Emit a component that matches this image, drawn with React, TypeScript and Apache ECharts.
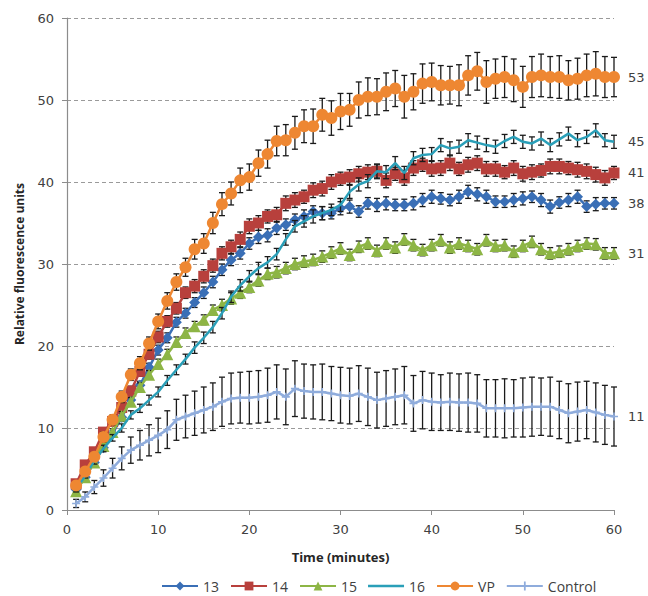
import React, { useEffect, useRef } from "react";
import * as echarts from "echarts";

const minutes = [1,2,3,4,5,6,7,8,9,10,11,12,13,14,15,16,17,18,19,20,21,22,23,24,25,26,27,28,29,30,31,32,33,34,35,36,37,38,39,40,41,42,43,44,45,46,47,48,49,50,51,52,53,54,55,56,57,58,59,60];

const s13 = [2.5,4.0,5.8,7.6,9.3,11.3,13.4,15.2,17.4,19.5,21.0,22.9,24.0,25.3,26.5,27.8,29.3,30.5,31.3,32.5,33.3,33.5,34.4,34.8,35.4,35.8,36.4,36.2,36.2,36.8,37.0,36.4,37.4,37.2,37.4,37.2,37.2,37.4,37.8,38.2,38.0,37.8,38.2,38.8,38.5,38.2,37.6,37.6,37.8,38.0,38.2,37.8,37.0,37.5,37.8,38.2,37.0,37.3,37.4,37.4];
const s14 = [3.2,5.5,7.1,9.5,10.8,12.5,14.5,16.9,19.0,21.1,23.0,24.6,26.5,27.3,28.5,29.8,31.3,32.1,33.0,34.6,35.0,35.8,36.0,37.4,37.8,38.2,39.0,39.2,40.0,40.4,40.6,41.0,41.2,41.3,40.2,41.0,40.5,41.7,42.1,41.6,41.7,42.3,41.6,42.1,42.3,41.6,41.6,41.2,41.7,41.0,41.2,41.4,41.9,41.9,41.7,41.5,41.3,40.9,40.5,41.1];
const s15 = [2.3,4.0,5.8,7.8,9.5,11.5,13.2,15.0,16.5,17.8,19.0,20.5,21.6,22.4,23.2,24.4,25.0,25.8,26.5,27.2,28.0,28.8,29.0,29.5,30.0,30.3,30.5,30.9,31.4,31.9,31.1,32.1,32.5,31.6,32.5,32.0,33.0,32.3,31.7,32.3,32.9,32.0,32.5,32.2,31.8,32.9,32.2,32.3,31.5,32.2,32.7,31.8,31.3,31.5,31.8,32.2,32.5,32.4,31.3,31.3];
const s16 = [2.5,4.2,6.0,7.5,8.8,10.0,11.6,12.4,13.4,14.4,15.8,17.1,18.4,19.8,21.0,22.3,24.0,26.0,27.4,28.5,29.5,30.2,31.2,33.0,34.6,35.2,35.8,36.2,36.6,37.2,38.8,39.7,40.1,41.3,41.2,42.3,41.1,42.9,43.3,43.4,44.5,44.1,44.3,45.1,44.8,44.5,44.3,45.0,45.5,44.9,44.7,45.3,44.5,45.2,45.9,45.1,45.5,46.3,45.1,44.9];
const sVP = [3.0,4.7,6.5,8.9,11.0,13.8,16.5,17.9,20.3,23.0,25.5,27.8,29.6,31.8,32.5,35.0,37.3,38.6,40.2,40.6,42.3,43.4,45.0,45.1,46.0,46.8,46.8,48.2,47.8,48.6,48.8,50.0,50.4,50.4,51.0,51.4,50.4,51.0,52.0,52.2,51.8,51.8,51.8,53.0,53.5,52.2,52.6,52.8,52.4,51.6,52.8,53.0,52.8,52.8,52.4,52.6,53.0,53.2,52.8,52.8];
const sCtrl = [0.8,1.6,2.8,3.9,5.1,6.3,7.3,7.9,8.5,9.1,9.8,11.0,11.4,11.8,12.2,12.6,13.2,13.6,13.7,13.7,13.8,14.0,14.4,13.8,14.8,14.5,14.4,14.4,14.2,14.0,13.9,14.2,13.8,13.4,13.6,13.8,14.0,13.0,13.4,13.2,13.1,13.2,13.1,13.1,13.0,12.4,12.4,12.4,12.4,12.5,12.6,12.6,12.6,12.2,11.8,12.0,12.2,11.9,11.6,11.4];

const e13 = [0.3,0.3,0.4,0.4,0.4,0.5,0.5,0.5,0.5,0.6,0.6,0.6,0.6,0.6,0.7,0.7,0.7,0.7,0.7,0.7,0.8,0.8,0.8,0.7,0.7,0.8,0.7,0.8,0.7,0.8,0.8,0.7,0.7,0.8,0.8,0.7,0.7,0.8,0.8,0.8,0.7,0.7,0.8,0.8,0.8,0.8,0.7,0.7,0.8,0.8,0.7,0.8,0.8,0.7,0.8,0.8,0.7,0.8,0.7,0.7];
const e14 = [0.3,0.4,0.4,0.5,0.5,0.5,0.6,0.6,0.6,0.7,0.7,0.7,0.7,0.8,0.8,0.8,0.8,0.8,0.9,0.9,0.9,0.8,0.9,0.9,0.9,0.8,0.9,0.9,0.9,0.8,0.9,0.9,0.9,0.9,0.9,0.8,0.9,0.9,0.8,0.9,0.9,0.9,0.8,0.9,0.9,0.9,0.9,0.8,0.9,0.9,0.9,0.8,0.9,0.9,0.8,0.9,0.9,0.9,0.9,0.8];
const e15 = [0.3,0.3,0.4,0.4,0.4,0.5,0.5,0.5,0.5,0.6,0.6,0.6,0.6,0.6,0.6,0.6,0.7,0.7,0.7,0.7,0.7,0.7,0.7,0.7,0.7,0.7,0.7,0.7,0.7,0.7,0.7,0.7,0.7,0.7,0.7,0.7,0.7,0.7,0.7,0.7,0.7,0.7,0.7,0.7,0.7,0.7,0.7,0.7,0.7,0.7,0.7,0.7,0.7,0.7,0.7,0.7,0.7,0.7,0.7,0.7];
const e16 = [0.3,0.3,0.4,0.4,0.4,0.5,0.5,0.5,0.6,0.6,0.6,0.6,0.6,0.7,0.7,0.7,0.7,0.7,0.7,0.7,0.7,0.7,0.7,0.7,0.7,0.7,0.8,0.8,0.7,0.8,0.8,0.8,0.8,0.8,0.8,0.8,0.8,0.8,0.8,0.8,0.8,0.8,0.8,0.8,0.8,0.8,0.8,0.8,0.8,0.8,0.8,0.8,0.8,0.8,0.8,0.8,0.8,0.8,0.8,0.8];
const eVP = [0.4,0.5,0.5,0.6,0.6,0.7,0.7,0.8,0.8,0.9,1.0,1.0,1.1,1.2,1.2,1.3,1.4,1.4,1.5,1.6,1.6,1.7,1.8,1.9,2.0,2.0,2.1,2.0,2.1,2.2,2.0,2.2,2.3,2.2,2.3,2.2,2.6,2.2,2.4,2.3,2.4,2.3,2.5,2.4,2.3,2.6,2.4,2.5,2.6,2.5,2.5,2.6,2.5,2.6,2.4,2.5,2.6,2.7,2.5,2.4];
const eCtrl = [0.5,0.6,0.8,1.0,1.2,1.4,1.6,1.8,1.9,2.1,2.3,2.5,2.6,2.7,2.8,2.9,3.0,3.1,3.1,3.2,3.2,3.3,3.3,3.4,3.4,3.3,3.3,3.4,3.3,3.4,3.4,3.4,3.5,3.4,3.4,3.4,3.5,3.4,3.5,3.5,3.4,3.5,3.5,3.6,3.5,3.5,3.5,3.6,3.5,3.6,3.6,3.5,3.6,3.5,3.6,3.6,3.5,3.6,3.6,3.6];

const seriesNames = ["13", "14", "15", "16", "VP", "Control"];
const endLabels = ["38", "41", "31", "45", "53", "11"];
const yTicks = [0, 10, 20, 30, 40, 50, 60];
const xTicks = [0, 10, 20, 30, 40, 50, 60];

const COLORS = ["#3A6FB6", "#B8403C", "#8DB545", "#2A9FB8", "#EE8732", "#8FACDC"];
const FONT = "'DejaVu Sans', Verdana, sans-serif";
const UI_FONT = "'Open Sans', 'Noto Sans', sans-serif";

const plusPath = "path://M4,0H6V4H10V6H6V10H4V6H0V4H4Z";
const lineIcon = "path://M0,0H36V2.6H0Z";

function lineSeries(idx: number, vals: number[], symbol: string, symbolSize: number) {
  return {
    type: "line",
    name: seriesNames[idx],
    data: minutes.map((t, i) => [t, vals[i]]),
    symbol,
    symbolSize,
    showSymbol: symbol !== "none",
    color: COLORS[idx],
    lineStyle: { color: COLORS[idx], width: 2.5 },
    itemStyle: { color: COLORS[idx] },
    endLabel: {
      show: true,
      formatter: () => endLabels[idx],
      distance: 14,
      color: "#404040",
      fontSize: 13,
      fontFamily: FONT,
    },
    z: 2 + idx * 2 + 1,
    silent: true,
  };
}

function errSeries(idx: number, vals: number[], errs: number[]) {
  return {
    type: "custom",
    name: seriesNames[idx] + " error",
    data: minutes.map((t, i) => [t, vals[i] - errs[i], vals[i] + errs[i]]),
    encode: { x: 0, y: [1, 2] },
    silent: true,
    z: 2 + idx * 2,
    renderItem: (_params: any, api: any) => {
      const x = api.value(0);
      const lo = api.coord([x, api.value(1)]);
      const hi = api.coord([x, api.value(2)]);
      const hw = 3;
      const st = { stroke: "#1a1a1a", lineWidth: 1.3 };
      return {
        type: "group",
        children: [
          { type: "line", shape: { x1: lo[0], y1: lo[1], x2: hi[0], y2: hi[1] }, style: st },
          { type: "line", shape: { x1: hi[0] - hw, y1: hi[1], x2: hi[0] + hw, y2: hi[1] }, style: st },
          { type: "line", shape: { x1: lo[0] - hw, y1: lo[1], x2: lo[0] + hw, y2: lo[1] }, style: st },
        ],
      };
    },
  };
}

export default function App() {
  const ref = useRef<HTMLDivElement>(null);
  useEffect(() => {
    if (!ref.current) return;
    const chart = echarts.init(ref.current, null, { renderer: "svg" });
    chart.setOption({
      animation: false,
      backgroundColor: "#ffffff",
      grid: { left: 67, right: 34, top: 18, bottom: 86, containLabel: false, outerBoundsMode: "none" },
      legend: {
        data: seriesNames.map((n) => (n === "16" ? { name: n, icon: lineIcon } : { name: n })),
        left: 161,
        top: 579,
        padding: 0,
        itemWidth: 36,
        itemHeight: 11,
        itemGap: 11,
        symbolKeepAspect: true,
        textStyle: { color: "#404040", fontSize: 14, lineHeight: 14, fontFamily: UI_FONT },
        selectedMode: false,
      },
      xAxis: {
        type: "value",
        min: xTicks[0],
        max: xTicks[xTicks.length - 1],
        interval: 10,
        name: "Time (minutes)",
        nameLocation: "middle",
        nameGap: 40,
        nameTextStyle: { color: "#262626", fontSize: 13, fontWeight: "bold", fontFamily: UI_FONT },
        axisLine: { show: true, lineStyle: { color: "#8c8c8c", width: 1.2 } },
        axisTick: { show: true, length: 5, lineStyle: { color: "#8c8c8c" } },
        axisLabel: { color: "#404040", fontSize: 13, fontFamily: FONT, margin: 13 },
        splitLine: { show: false },
      },
      yAxis: {
        type: "value",
        min: yTicks[0],
        max: yTicks[yTicks.length - 1],
        interval: 10,
        name: "Relative fluorescence units",
        nameLocation: "middle",
        nameGap: 42,
        nameTextStyle: { color: "#262626", fontSize: 12, fontWeight: "bold", fontFamily: UI_FONT },
        axisLine: { show: true, lineStyle: { color: "#8c8c8c", width: 1.2 } },
        axisTick: { show: true, length: 5, lineStyle: { color: "#8c8c8c" } },
        axisLabel: { color: "#404040", fontSize: 13, fontFamily: FONT, margin: 13 },
        splitLine: { show: true, lineStyle: { color: "#9a9a9a", type: [4, 3], width: 1 } },
      },
      series: [
        errSeries(0, s13, e13),
        lineSeries(0, s13, "diamond", 11),
        errSeries(1, s14, e14),
        lineSeries(1, s14, "rect", 11),
        errSeries(2, s15, e15),
        lineSeries(2, s15, "triangle", 12),
        errSeries(3, s16, e16),
        lineSeries(3, s16, "none", 0),
        errSeries(4, sVP, eVP),
        lineSeries(4, sVP, "circle", 12),
        errSeries(5, sCtrl, eCtrl),
        lineSeries(5, sCtrl, plusPath, 8),
      ],
    });
    return () => chart.dispose();
  }, []);
  return <div ref={ref} style={{ position: "absolute", left: 0, top: 0, width: 648, height: 596 }} />;
}
